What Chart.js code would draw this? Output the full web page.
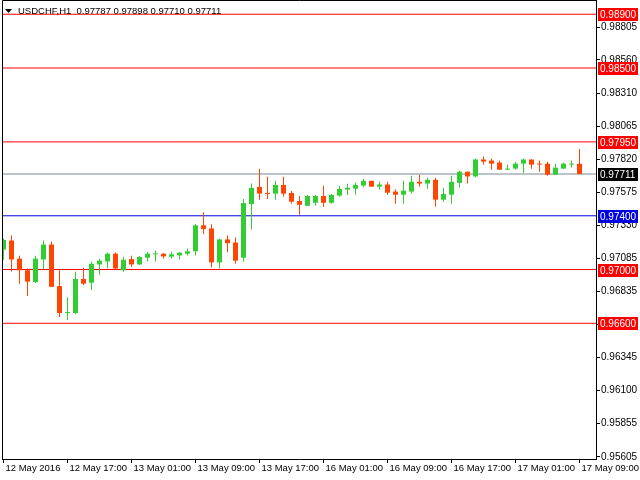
<!DOCTYPE html>
<html>
<head>
<meta charset="utf-8">
<script src="https://cdn.jsdelivr.net/npm/chart.js@4/dist/chart.umd.min.js"></script>
<style>
    html, body { margin: 0; padding: 0; background: #fff; }
</style>
</head>
<body>
<canvas id="chart" width="640" height="480"></canvas>
<script>
const symbol = 'USDCHF,H1'

const timeLabels = ['12 May 2016', '12 May 17:00', '13 May 01:00', '13 May 09:00', '13 May 17:00',
    '16 May 01:00', '16 May 09:00', '16 May 17:00', '17 May 01:00', '17 May 09:00']
const labelStep = 8

const opens = [
    0.97148, 0.97216, 0.97081, 0.96995, 0.96907, 0.97075, 0.97186, 0.96877,
    0.96676, 0.96676, 0.96930, 0.96902, 0.97038, 0.97060, 0.97118, 0.96995,
    0.97078, 0.97038, 0.97088, 0.97113, 0.97118, 0.97096, 0.97105, 0.97118,
    0.97136, 0.97329, 0.97306, 0.97053, 0.97224, 0.97201, 0.97088, 0.97487,
    0.97615, 0.97570, 0.97565, 0.97630, 0.97570, 0.97510, 0.97474, 0.97497,
    0.97547, 0.97497, 0.97550, 0.97595, 0.97602, 0.97625, 0.97660, 0.97617,
    0.97633, 0.97580, 0.97557, 0.97580, 0.97653, 0.97640, 0.97668, 0.97520,
    0.97557, 0.97645, 0.97728, 0.97693, 0.97819, 0.97811, 0.97796, 0.97743,
    0.97751, 0.97788, 0.97819, 0.97788, 0.97788, 0.97706, 0.97751, 0.97781,
    0.97787
]
const highs = [
    0.97231, 0.97254, 0.97103, 0.97008, 0.97103, 0.97216, 0.97209, 0.96995,
    0.96794, 0.96983, 0.97013, 0.97058, 0.97081, 0.97126, 0.97126, 0.97096,
    0.97103, 0.97101, 0.97133, 0.97141, 0.97122, 0.97133, 0.97130, 0.97156,
    0.97339, 0.97427, 0.97337, 0.97231, 0.97254, 0.97239, 0.97525, 0.97640,
    0.97751, 0.97691, 0.97660, 0.97691, 0.97585, 0.97547, 0.97555, 0.97555,
    0.97623, 0.97563, 0.97623, 0.97638, 0.97645, 0.97675, 0.97660, 0.97653,
    0.97653, 0.97595, 0.97660, 0.97698, 0.97706, 0.97683, 0.97683, 0.97608,
    0.97698, 0.97736, 0.97728, 0.97826, 0.97841, 0.97826, 0.97811, 0.97781,
    0.97803, 0.97826, 0.97819, 0.97811, 0.97803, 0.97788, 0.97796, 0.97811,
    0.97898
]
const lows = [
    0.97073, 0.96985, 0.96895, 0.96804, 0.96900, 0.97000, 0.96870, 0.96646,
    0.96624, 0.96670, 0.96885, 0.96847, 0.96962, 0.97008, 0.97000, 0.96983,
    0.97020, 0.97035, 0.97060, 0.97060, 0.97083, 0.97083, 0.97075, 0.97105,
    0.97105, 0.97264, 0.97015, 0.97008, 0.97128, 0.97043, 0.97058, 0.97299,
    0.97520, 0.97525, 0.97520, 0.97542, 0.97490, 0.97407, 0.97474, 0.97474,
    0.97467, 0.97490, 0.97542, 0.97555, 0.97557, 0.97610, 0.97617, 0.97595,
    0.97557, 0.97490, 0.97490, 0.97565, 0.97617, 0.97602, 0.97467, 0.97505,
    0.97490, 0.97610, 0.97640, 0.97685, 0.97781, 0.97743, 0.97743, 0.97743,
    0.97743, 0.97721, 0.97751, 0.97728, 0.97698, 0.97706, 0.97751, 0.97758,
    0.97710
]
const closes = [
    0.97220, 0.97075, 0.96995, 0.96910, 0.97081, 0.97186, 0.96872, 0.96676,
    0.96681, 0.96930, 0.96895, 0.97043, 0.97066, 0.97118, 0.97008, 0.97073,
    0.97038, 0.97093, 0.97118, 0.97118, 0.97098, 0.97113, 0.97126, 0.97136,
    0.97329, 0.97301, 0.97053, 0.97224, 0.97196, 0.97066, 0.97495, 0.97608,
    0.97565, 0.97563, 0.97630, 0.97565, 0.97505, 0.97482, 0.97547, 0.97547,
    0.97497, 0.97555, 0.97600, 0.97608, 0.97630, 0.97660, 0.97617, 0.97633,
    0.97572, 0.97557, 0.97587, 0.97653, 0.97640, 0.97668, 0.97520, 0.97563,
    0.97653, 0.97728, 0.97693, 0.97819, 0.97803, 0.97788, 0.97743, 0.97751,
    0.97788, 0.97819, 0.97781, 0.97781, 0.97706, 0.97758, 0.97788, 0.97788,
    0.97711
]

const redLevels = [0.98900, 0.98500, 0.97950, 0.97000, 0.96600]
const blueLevels = [0.97400]

const priceTicks = [0.98805, 0.98560, 0.98310, 0.98065, 0.97820, 0.97575, 0.97330,
    0.97085, 0.96835, 0.96590, 0.96345, 0.96100, 0.95855, 0.95605]

const bull = '#32cd32'
const bear = '#ff4500'
const red = '#ff0000'
const blue = '#0000e0'
const slate = '#778899'
const font = 'Liberation Sans'

const last = closes.length - 1
const lastPrice = closes[last]
const xMin = -0.1875
const xMax = 74.0625

const candleColors = closes.map((c, i) => c >= opens[i] ? bull : bear)

function levelLine(value, color) {
    return {
        type: 'line',
        data: [{ x: xMin - 1, y: value }, { x: xMax + 1, y: value }],
        borderColor: color,
        borderWidth: 1,
        pointRadius: 0,
        fill: false
    }
}

// price tags on the right scale + header text + frame
const overlay = {
    id: 'overlay',
    afterDatasetsDraw(chart) {
        const { ctx, chartArea } = chart
        ctx.save()
        ctx.strokeStyle = '#000'
        ctx.lineWidth = 1
        ctx.beginPath()
        ctx.moveTo(chartArea.left + 0.5, chartArea.bottom)
        ctx.lineTo(chartArea.left + 0.5, chartArea.top + 0.5)
        ctx.lineTo(chartArea.right, chartArea.top + 0.5)
        ctx.stroke()
        ctx.restore()
    },
    afterDraw(chart) {
        const { ctx, chartArea } = chart
        const y = chart.scales.y
        const tags = []
        redLevels.forEach(v => tags.push([v, red]))
        blueLevels.forEach(v => tags.push([v, blue]))
        tags.push([lastPrice, '#000'])

        ctx.save()
        ctx.font = '10px "' + font + '"'
        ctx.textBaseline = 'middle'
        ctx.textAlign = 'left'
        for (const [v, color] of tags) {
            const py = Math.round(y.getPixelForValue(v))
            ctx.fillStyle = color
            ctx.fillRect(chartArea.right + 2, py - 6, 40, 13)
            ctx.fillStyle = '#fff'
            ctx.fillText(v.toFixed(5), chartArea.right + 4, py + 1)
        }

        ctx.fillStyle = '#000'
        ctx.beginPath()
        ctx.moveTo(5, 9)
        ctx.lineTo(12, 9)
        ctx.lineTo(8.5, 13)
        ctx.closePath()
        ctx.fill()
        ctx.font = '9.5px "' + font + '"'
        ctx.textBaseline = 'alphabetic'
        const head = symbol + '  ' + [opens[last], highs[last], lows[last], closes[last]].map(v => v.toFixed(5)).join(' ')
        ctx.fillText(head, 18, 14)
        ctx.restore()
    }
}

new Chart(document.querySelector('#chart'), {
    type: 'bar',
    data: {
        datasets: [{
            label: 'body',
            data: closes.map((c, i) => ({ x: i, y: [opens[i], c] })),
            backgroundColor: candleColors,
            borderWidth: 0,
            barThickness: 5,
            minBarLength: 1,
            grouped: false,
            inflateAmount: 0
        }, {
            label: 'wick',
            data: closes.map((c, i) => ({ x: i, y: [lows[i], highs[i]] })),
            backgroundColor: candleColors,
            borderWidth: 0,
            barThickness: 1,
            minBarLength: 1,
            grouped: false,
            inflateAmount: 0
        },
        ...redLevels.map(v => levelLine(v, red)),
        ...blueLevels.map(v => levelLine(v, blue)),
        levelLine(lastPrice, slate)]
    },
    options: {
        responsive: false,
        animation: false,
        devicePixelRatio: 1,
        layout: { padding: { left: 2, top: 0, right: 0, bottom: 0 } },
        plugins: {
            legend: { display: false },
            tooltip: { enabled: false }
        },
        scales: {
            x: {
                type: 'linear',
                position: 'bottom',
                offset: false,
                min: xMin,
                max: xMax,
                grid: { offset: false, drawOnChartArea: false, drawTicks: true, tickLength: 4, color: '#000' },
                border: { display: true, color: '#000' },
                ticks: {
                    autoSkip: false,
                    maxRotation: 0,
                    minRotation: 0,
                    align: 'start',
                    padding: 0,
                    labelOffset: 2,
                    color: '#000',
                    font: { family: font, size: 9.5 },
                    callback: v => timeLabels[Math.round(v / labelStep)]
                },
                afterBuildTicks: s => { s.ticks = timeLabels.map((t, k) => ({ value: k * labelStep })) },
                afterFit: s => { s.height = 21; s.paddingLeft = 0; s.paddingRight = 0 }
            },
            y: {
                position: 'right',
                min: 0.95590,
                max: 0.99006,
                grid: { drawOnChartArea: false, drawTicks: true, tickLength: 4, color: '#000' },
                border: { display: true, color: '#000' },
                ticks: {
                    autoSkip: false,
                    padding: 1,
                    color: '#000',
                    font: { family: font, size: 10 },
                    callback: v => v.toFixed(5)
                },
                afterBuildTicks: s => { s.ticks = priceTicks.map(v => ({ value: v })) },
                afterFit: s => { s.width = 44; s.paddingTop = 0; s.paddingBottom = 0 }
            }
        }
    },
    plugins: [overlay]
})
</script>
</body>
</html>
